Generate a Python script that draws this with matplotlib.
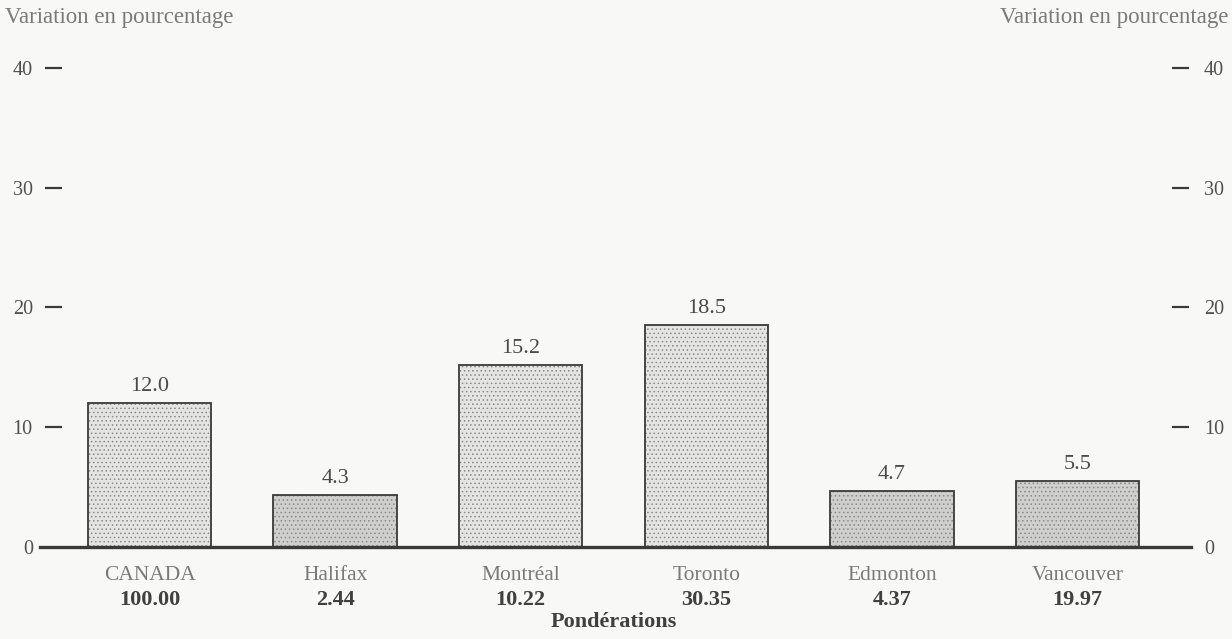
import numpy as np
import matplotlib.pyplot as plt
import matplotlib.transforms as mtransforms

plt.rcParams['font.family'] = ['Liberation Serif', 'DejaVu Serif']
plt.rcParams['hatch.linewidth'] = 0.6

# data
villes = ['CANADA', 'Halifax', 'Montréal', 'Toronto', 'Edmonton', 'Vancouver']
ponderations = ['100.00', '2.44', '10.22', '30.35', '4.37', '19.97']
variation = [12.0, 4.3, 15.2, 18.5, 4.7, 5.5]
fonds = ['#e4e4e2', '#cfcfcd', '#e4e4e2', '#e4e4e2', '#cfcfcd', '#cfcfcd']
yticks = [0, 10, 20, 30, 40]

paper = '#f8f8f6'
ink = '#3a3a3a'
grey = '#7a7a7a'

fig = plt.figure(figsize=(12.32, 6.39), dpi=100, facecolor=paper)
ax = fig.add_axes([0.0325, 0.144, 0.934, 0.7496])
ax.set_facecolor(paper)

x = np.arange(len(villes))
# stipple fill, then outline on top
ax.bar(x, variation, width=0.665, color=fonds, edgecolor='#8a8a88',
       hatch='....', linewidth=0, zorder=2)
ax.bar(x, variation, width=0.665, fill=False, edgecolor=ink,
       linewidth=1.3, zorder=3)

for xi, v in zip(x, variation):
    ax.text(xi, v + 0.6, f'{v:.1f}', ha='center', va='bottom',
            fontsize=16, color='#4a4a4a')

ax.set_xlim(-0.59, 5.61)
ax.set_ylim(0, 40)
for s in ['top', 'right', 'left']:
    ax.spines[s].set_visible(False)
ax.spines['bottom'].set_linewidth(2.4)
ax.spines['bottom'].set_color(ink)
ax.spines['bottom'].set_zorder(4)
ax.set_xticks([])

# scales on both sides
ax.set_yticks(yticks)
ax.set_yticklabels([str(t) for t in yticks])
ax.tick_params(axis='y', direction='in', length=12, width=1.6, color=ink,
               pad=-2, labelsize=14.5, labelcolor='#505050',
               left=True, right=True, labelleft=True, labelright=True)
ax.yaxis.get_major_ticks()[0].tick1line.set_visible(False)
ax.yaxis.get_major_ticks()[0].tick2line.set_visible(False)

# shift tick marks away from the axis edge like the printed dashes
off_l = mtransforms.ScaledTranslation(5 / 100, 0, fig.dpi_scale_trans)
off_r = mtransforms.ScaledTranslation(-2 / 100, 0, fig.dpi_scale_trans)
for t in ax.yaxis.get_major_ticks():
    t.tick1line.set_transform(t.tick1line.get_transform() + off_l)
    t.tick2line.set_transform(t.tick2line.get_transform() + off_r)
    t.label1.set_transform(t.label1.get_transform() + mtransforms.ScaledTranslation(-10 / 100, 0, fig.dpi_scale_trans))
    t.label2.set_transform(t.label2.get_transform() + mtransforms.ScaledTranslation(16 / 100, 0, fig.dpi_scale_trans))

# category labels and weights
trans = mtransforms.blended_transform_factory(ax.transData, fig.transFigure)
for xi, nom, p in zip(x, villes, ponderations):
    ax.text(xi, 1 - 576 / 639, nom, transform=trans, ha='center', va='center',
            fontsize=15.5, color=grey)
    ax.text(xi, 1 - 600 / 639, p, transform=trans, ha='center', va='center',
            fontsize=16, fontweight='bold', color='#404040')

ax.text(2.5, 1 - 622 / 639, 'Pondérations', transform=trans, ha='center',
        va='center', fontsize=16, fontweight='bold', color='#404040')

fig.text(5 / 1232, 1 - 18 / 639, 'Variation en pourcentage', ha='left',
         va='center', fontsize=16.5, color=grey)
fig.text(1228 / 1232, 1 - 18 / 639, 'Variation en pourcentage', ha='right',
         va='center', fontsize=16.5, color=grey)

fig.savefig('out.png', dpi=100, facecolor=paper)
